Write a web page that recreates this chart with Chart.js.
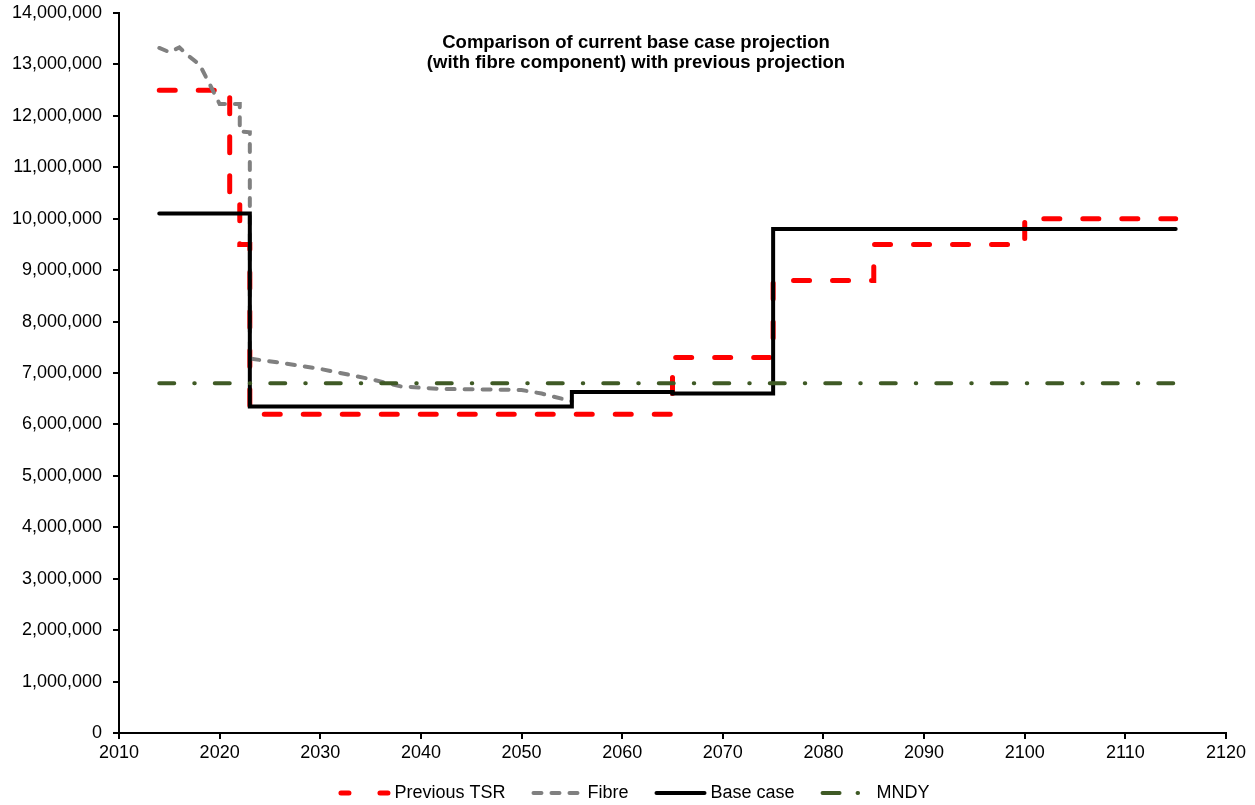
<!DOCTYPE html>
<html>
<head>
<meta charset="utf-8">
<script src="https://cdn.jsdelivr.net/npm/chart.js@4/dist/chart.umd.min.js"></script>
<style>
  html, body { margin: 0; padding: 0; background: #fff; }
</style>
</head>
<body>
<canvas id="chart" width="1255" height="805"></canvas>
<script>
var titleLines = ["Comparison of current base case projection", "(with fibre component) with previous projection"];

// x range / ticks
var xMin = 2010, xMax = 2120, xStep = 10;
var yMin = 0, yMax = 14000000, yStep = 1000000;

// Previous TSR (step corners)
var tsrYears  = [2014, 2021, 2021, 2022, 2022, 2023, 2023, 2065, 2065, 2075, 2075, 2085, 2085, 2100, 2100, 2115];
var tsrValues = [12500000, 12500000, 10350000, 10350000, 9500000, 9500000, 6200000, 6200000, 7300000, 7300000, 8800000, 8800000, 9500000, 9500000, 10000000, 10000000];

// Fibre
var fibreYears  = [2014, 2015, 2016, 2017, 2018, 2019, 2020, 2022, 2022, 2023, 2023, 2026, 2030, 2035, 2038, 2042, 2050, 2052, 2055];
var fibreValues = [13320000, 13240000, 13330000, 13150000, 13000000, 12620000, 12230000, 12230000, 11700000, 11680000, 7280000, 7200000, 7080000, 6880000, 6740000, 6690000, 6670000, 6600000, 6450000];

// Base case
var baseYears  = [2014, 2023, 2023, 2055, 2055, 2065, 2065, 2075, 2075, 2115];
var baseValues = [10100000, 10100000, 6350000, 6350000, 6630000, 6630000, 6600000, 6600000, 9800000, 9800000];

// MNDY
var mndyYears  = [2014, 2115];
var mndyValues = [6800000, 6800000];

function toPoints(xs, ys) {
    return xs.map((x, i) => ({ x: x, y: ys[i] }));
}

var font = '"Liberation Sans", Arial, sans-serif';

// title inside the plot and a legend with real line samples
var overlay = {
    id: 'overlay',
    afterDraw(chart) {
        var ctx = chart.ctx;
        ctx.save();
        ctx.fillStyle = '#000';
        ctx.font = 'bold 18.5px ' + font;
        ctx.textAlign = 'center';
        ctx.textBaseline = 'middle';
        titleLines.forEach((t, i) => ctx.fillText(t, 636, 43 + i * 20));

        ctx.font = '18px ' + font;
        ctx.textAlign = 'left';
        var slot = 56, spacing = 26;
        var sets = chart.data.datasets;
        var widths = sets.map(ds => slot + ctx.measureText(ds.label).width);
        var total = widths.reduce((a, b) => a + b, 0) + spacing * (sets.length - 1);
        var x = 634 - total / 2, y = 793;
        sets.forEach((ds, i) => {
            var cap = ds.borderWidth / 2;
            ctx.beginPath();
            ctx.strokeStyle = ds.borderColor;
            ctx.lineWidth = ds.borderWidth;
            ctx.lineCap = ds.borderCapStyle || 'butt';
            ctx.setLineDash(ds.legendDash || ds.borderDash || []);
            ctx.moveTo(x + cap, y);
            ctx.lineTo(x + (ds.legendLen || 52) - cap, y);
            ctx.stroke();
            ctx.setLineDash([]);
            ctx.fillText(ds.label, x + slot, y);
            x += widths[i] + spacing;
        });
        ctx.restore();
    }
};

var ctx = document.getElementById('chart').getContext('2d');
var chart = new Chart(ctx, {
    type: 'scatter',
    data: {
        datasets: [
            {
                label: 'Previous TSR',
                data: toPoints(tsrYears, tsrValues),
                borderColor: '#FF0000',
                borderWidth: 5,
                borderDash: [16, 23],
                legendDash: [8, 31],
                legendLen: 54,
                borderCapStyle: 'round',
                order: 4
            },
            {
                label: 'Fibre',
                data: toPoints(fibreYears, fibreValues),
                borderColor: '#808080',
                borderWidth: 4,
                borderDash: [8, 10],
                legendLen: 50,
                borderCapStyle: 'round',
                order: 3
            },
            {
                label: 'Base case',
                data: toPoints(baseYears, baseValues),
                borderColor: '#000000',
                borderWidth: 4,
                borderCapStyle: 'round',
                order: 2
            },
            {
                label: 'MNDY',
                data: toPoints(mndyYears, mndyValues),
                borderColor: '#3F5A25',
                borderWidth: 4,
                borderDash: [15, 20, 0.5, 20],
                legendDash: [17, 18, 0.5, 40],
                legendLen: 40,
                borderCapStyle: 'round',
                order: 1
            }
        ]
    },
    options: {
        responsive: false,
        animation: false,
        showLine: true,
        elements: {
            point: { radius: 0, hoverRadius: 0 },
            line: { tension: 0, fill: false, borderJoinStyle: 'miter' }
        },
        layout: { padding: { top: 13, right: 29, left: 0, bottom: 0 } },
        plugins: {
            legend: { display: false },
            title: { display: false },
            tooltip: { enabled: false }
        },
        scales: {
            x: {
                type: 'linear',
                min: xMin,
                max: xMax,
                afterFit: (scale) => { scale.height = 72; scale.paddingLeft = 0; scale.paddingRight = 0; },
                ticks: {
                    stepSize: xStep,
                    color: '#000',
                    padding: 3,
                    maxRotation: 0,
                    font: { family: font, size: 18 },
                    callback: (v) => String(v)
                },
                grid: { drawOnChartArea: false, drawTicks: true, tickLength: 6, color: '#000', lineWidth: 2 },
                border: { display: true, color: '#000', width: 2 }
            },
            y: {
                min: yMin,
                max: yMax,
                afterFit: (scale) => { scale.width = 119; scale.paddingTop = 0; scale.paddingBottom = 0; },
                ticks: {
                    stepSize: yStep,
                    color: '#000',
                    padding: 11,
                    font: { family: font, size: 18 },
                    callback: (v) => v.toLocaleString('en-US')
                },
                grid: { drawOnChartArea: false, drawTicks: true, tickLength: 6, color: '#000', lineWidth: 2 },
                border: { display: true, color: '#000', width: 2 }
            }
        }
    },
    plugins: [overlay]
});
</script>
</body>
</html>
